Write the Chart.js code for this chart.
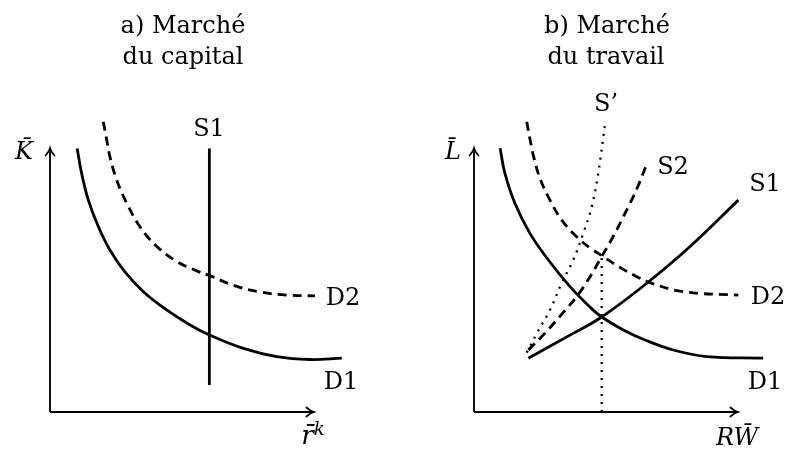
<!DOCTYPE html>
<html><head><meta charset="utf-8">
<script src="https://cdn.jsdelivr.net/npm/chart.js@4/dist/chart.umd.min.js"></script>
<style>
html,body{margin:0;padding:0;background:#fff;width:787px;height:450px;overflow:hidden;position:relative}
.cv{position:absolute;top:0}
.lbl{position:absolute;transform:translate(-50%,-50%);font-family:"DejaVu Serif",serif;font-size:24px;line-height:24px;white-space:nowrap;color:#000}
.it{font-style:italic}
.big{font-size:26px}
sup{font-size:18px;line-height:0;vertical-align:0.5em}
</style></head><body>
<canvas id="cA" class="cv" style="left:0px" width="393" height="450"></canvas>
<canvas id="cB" class="cv" style="left:394px" width="393" height="450"></canvas>

<div class="lbl" style="left:183px;top:25px">a) Marché</div>
<div class="lbl" style="left:183px;top:56px">du capital</div>
<div class="lbl" style="left:607px;top:25px">b) Marché</div>
<div class="lbl" style="left:606px;top:56px">du travail</div>

<div class="lbl it" style="left:24px;top:151px">K&#772;</div>
<div class="lbl it big" style="left:313px;top:435px">r&#772;<sup>k</sup></div>
<div class="lbl it" style="left:453px;top:151px">L&#772;</div>
<div class="lbl it" style="left:737px;top:437px">RW&#772;</div>

<div class="lbl" style="left:209px;top:128px">S1</div>
<div class="lbl" style="left:343px;top:297px">D2</div>
<div class="lbl" style="left:341px;top:381px">D1</div>

<div class="lbl" style="left:606px;top:103px">S’</div>
<div class="lbl" style="left:673px;top:166px">S2</div>
<div class="lbl" style="left:765px;top:183px">S1</div>
<div class="lbl" style="left:768px;top:296px">D2</div>
<div class="lbl" style="left:765px;top:381px">D1</div>

<script>
// ---- data (axis units: origin at the axes corner, arrows end at 10) ----
const AXIS_END = 10;
const axisX = [0, AXIS_END];
const axisY = [0, AXIS_END];

// a) capital market
const capD1X = [1.03, 1.20, 1.45, 1.83, 2.27, 2.84, 3.54, 4.42, 5.31, 6.04, 7.33, 8.59, 9.85, 11.06];
const capD1Y = [9.99, 9.04, 8.04, 7.03, 6.14, 5.31, 4.56, 3.87, 3.30, 2.92, 2.41, 2.10, 1.99, 2.04];
const capD2X = [2.02, 2.15, 2.27, 2.53, 2.91, 3.41, 4.04, 4.80, 5.56, 6.06, 6.95, 7.96, 8.97, 10.04];
const capD2Y = [11.0, 10.31, 9.68, 8.79, 7.91, 7.02, 6.28, 5.71, 5.35, 5.17, 4.80, 4.55, 4.43, 4.40];
const capS1X = [6.04, 6.04];
const capS1Y = [1.02, 9.99];

// b) labour market
const labD1X = [0.99, 1.17, 1.55, 2.12, 2.82, 3.64, 4.40, 4.84, 5.66, 6.48, 7.55, 8.82, 10.96];
const labD1Y = [10.0, 9.05, 7.91, 6.77, 5.76, 4.75, 3.97, 3.60, 3.11, 2.73, 2.35, 2.10, 2.04];
const labD2X = [2.0, 2.13, 2.28, 2.52, 2.88, 3.32, 3.89, 4.40, 4.90, 5.53, 6.17, 6.67, 7.93, 10.02];
const labD2Y = [11.0, 10.3, 9.6, 8.8, 8.03, 7.28, 6.64, 6.22, 5.89, 5.48, 5.13, 4.90, 4.56, 4.43];
const labS1X = [2.06, 3.76, 4.84, 6.55, 8.19, 10.02];
const labS1Y = [2.04, 2.98, 3.60, 4.88, 6.27, 8.03];
const labS2X = [2.06, 2.69, 3.32, 3.89, 4.40, 4.84, 5.28, 5.79, 6.17, 6.55];
const labS2Y = [2.35, 2.99, 3.70, 4.37, 5.13, 5.89, 6.66, 7.66, 8.45, 9.40];
const labSpX = [2.0, 2.38, 2.88, 3.32, 3.76, 4.14, 4.46, 4.71, 4.97];
const labSpY = [2.25, 2.98, 3.87, 4.88, 5.76, 6.77, 7.78, 9.05, 10.94];
const wageX = [4.84, 4.84];
const wageY = [0, 5.95];

// ---- helpers ----
const UNIT_PX = 343 / 13;
const pts = (xs, ys) => xs.map((x, i) => ({x, y: ys[i]}));
function line(xs, ys, opts) {
  return Object.assign({
    data: pts(xs, ys), showLine: true, pointRadius: 0, borderColor: '#000',
    borderWidth: 2.8, fill: false, clip: false, tension: 0.4, borderCapStyle: 'butt'
  }, opts || {});
}
const axesSets = () => [
  line(axisX, [0, 0], {borderWidth: 1.9, tension: 0}),
  line([0, 0], axisY, {borderWidth: 1.9, tension: 0})
];

const arrowPlugin = {
  id: 'axisArrows',
  afterDatasetsDraw(chart) {
    const {ctx, scales: {x, y}} = chart;
    const ox = x.getPixelForValue(0), oy = y.getPixelForValue(0);
    const tx = x.getPixelForValue(AXIS_END), ty = y.getPixelForValue(AXIS_END);
    ctx.save();
    ctx.strokeStyle = '#000'; ctx.lineWidth = 1.7; ctx.lineCap = 'round';
    ctx.beginPath();
    ctx.moveTo(ox - 4.5, ty + 7.5); ctx.quadraticCurveTo(ox - 0.8, ty + 3, ox, ty);
    ctx.quadraticCurveTo(ox + 0.8, ty + 3, ox + 4.5, ty + 7.5);
    ctx.stroke();
    ctx.beginPath();
    ctx.moveTo(tx - 7.5, oy - 4.5); ctx.quadraticCurveTo(tx - 3, oy - 0.8, tx, oy);
    ctx.quadraticCurveTo(tx - 3, oy + 0.8, tx - 7.5, oy + 4.5);
    ctx.stroke();
    ctx.restore();
  }
};

function makeChart(id, datasets, padLeft) {
  const canvas = document.getElementById(id);
  const areaW = canvas.width - padLeft;
  return new Chart(canvas, {
    type: 'scatter',
    data: {datasets},
    options: {
      responsive: false, animation: false, events: [],
      layout: {autoPadding: false, padding: {left: padLeft, right: 0, top: 69, bottom: 38}},
      plugins: {legend: {display: false}, tooltip: {enabled: false}, title: {display: false}},
      scales: {
        x: {type: 'linear', display: false, min: 0, max: areaW / UNIT_PX},
        y: {type: 'linear', display: false, min: 0, max: 13}
      }
    },
    plugins: [arrowPlugin]
  });
}

makeChart('cA', [
  ...axesSets(),
  line(capD1X, capD1Y),
  line(capD2X, capD2Y, {borderDash: [9, 6]}),
  line(capS1X, capS1Y, {tension: 0})
], 50);

makeChart('cB', [
  ...axesSets(),
  line(wageX, wageY, {borderWidth: 2.3, borderDash: [2, 6], tension: 0}),
  line(labSpX, labSpY, {borderWidth: 2.3, borderDash: [2, 6]}),
  line(labD1X, labD1Y),
  line(labD2X, labD2Y, {borderDash: [9, 6]}),
  line(labS2X, labS2Y, {borderDash: [9, 6]}),
  line(labS1X, labS1Y)
], 80);
</script>
</body></html>
